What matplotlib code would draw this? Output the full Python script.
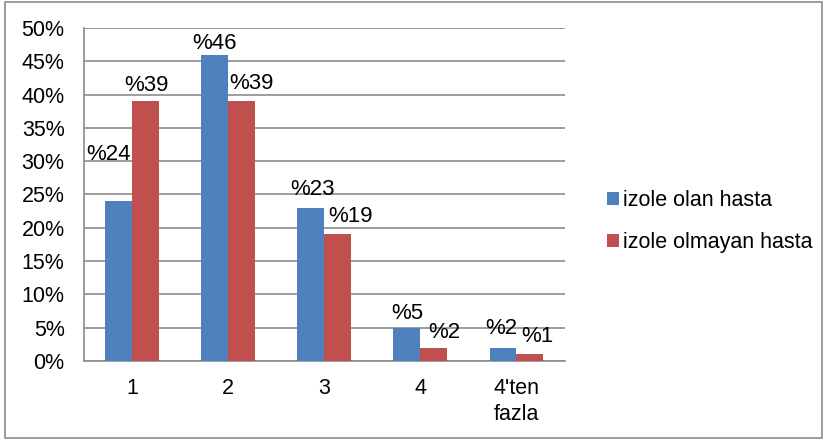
import numpy as np
import matplotlib.pyplot as plt
from matplotlib.patches import Rectangle

plt.rcParams["font.family"] = ["Liberation Sans", "DejaVu Sans"]

# data
categories = ["1", "2", "3", "4", "4'ten\nfazla"]
izole_olan = [24, 46, 23, 5, 2]
izole_olmayan = [39, 39, 19, 2, 1]
series_names = ["izole olan hasta", "izole olmayan hasta"]

# label nudges in pixels (dx, dy) - labels were moved by hand in the original
blue_offsets = [(-10, 47), (0, 11), (2, 18), (0, 14), (-2, 19)]
red_offsets = [(1, 16), (10, 18), (13, 18), (10, 15), (7, 18)]

blue = "#4F81BD"
red = "#C0504D"
grid_col = "#8C8C8C"

fig = plt.figure(figsize=(8.27, 4.43), dpi=100)
ax = fig.add_axes([0.1016, 0.185, 0.581, 0.752])

x = np.arange(len(categories))
w = 0.28
b1 = ax.bar(x - w / 2, izole_olan, w, color=blue, label=series_names[0], zorder=3)
b2 = ax.bar(x + w / 2, izole_olmayan, w, color=red, label=series_names[1], zorder=3)

for bars, vals, offs in [(b1, izole_olan, blue_offsets), (b2, izole_olmayan, red_offsets)]:
    for rect, v, (dx, dy) in zip(bars, vals, offs):
        ax.annotate("%" + str(v), (rect.get_x() + rect.get_width() / 2, v),
                    xytext=(dx, dy), textcoords="offset pixels",
                    ha="center", va="center", fontsize=16, color="black")

ax.set_xlim(-0.5, len(categories) - 0.5)
ax.set_ylim(0, 50)
ax.set_yticks(range(0, 51, 5))
ax.set_yticklabels([f"{t}%" for t in range(0, 51, 5)])
ax.set_xticks(x)
ax.set_xticklabels(categories, linespacing=1.35)
ax.tick_params(axis="y", length=0, pad=14, labelsize=15.5)
ax.tick_params(axis="x", length=0, pad=12, labelsize=15.5)
ax.yaxis.grid(True, color=grid_col, linewidth=1.2, zorder=0)
ax.set_axisbelow(True)

for s in ["top", "right"]:
    ax.spines[s].set_visible(False)
ax.spines["left"].set_color(grid_col)
ax.spines["bottom"].set_color(grid_col)
ax.spines["left"].set_linewidth(1.2)
ax.spines["bottom"].set_linewidth(1.2)

fig.legend(handles=[b1, b2], loc="center left", bbox_to_anchor=(0.734, 0.5),
           frameon=False, fontsize=15.5, handlelength=0.55, handleheight=0.55,
           handletextpad=0.2, labelspacing=0.95, borderpad=0, borderaxespad=0)

fig.patches.append(Rectangle((5 / 827, 5 / 443), 817 / 827, 436 / 443,
                             transform=fig.transFigure, fill=False,
                             edgecolor="#8C8C8C", linewidth=1.2))

fig.savefig("out.png", dpi=100)
